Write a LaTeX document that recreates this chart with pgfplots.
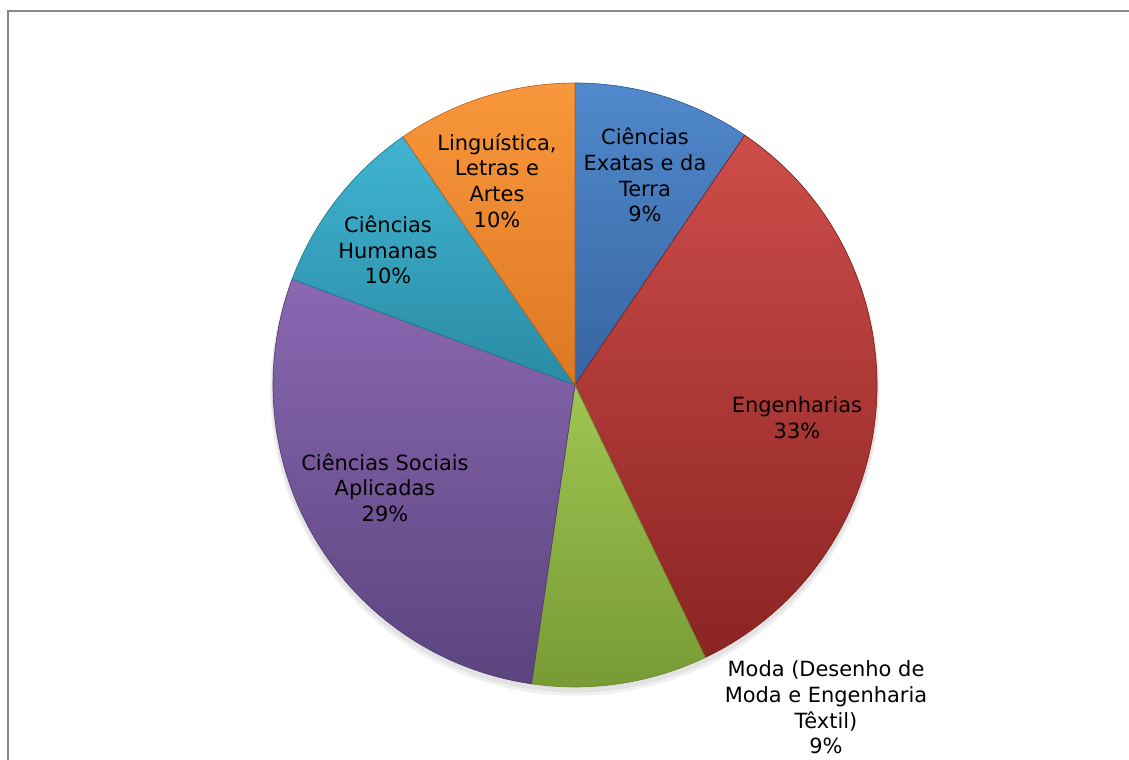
\documentclass[border=0pt]{standalone}
\usepackage{pgfplots}
\pgfplotsset{compat=1.18}
\usepackage{pgfplotstable}
\usepackage{fontspec}
\setmainfont{DejaVu Sans}

\definecolor{c0top}{HTML}{5089CC}\definecolor{c0bot}{HTML}{3764A0}
\definecolor{c1top}{HTML}{CE4D4A}\definecolor{c1bot}{HTML}{8A2422}
\definecolor{c2top}{HTML}{9FC552}\definecolor{c2bot}{HTML}{779A35}
\definecolor{c3top}{HTML}{8A68B2}\definecolor{c3bot}{HTML}{5B447E}
\definecolor{c4top}{HTML}{40B4D2}\definecolor{c4bot}{HTML}{2A8BA3}
\definecolor{c5top}{HTML}{F9973C}\definecolor{c5bot}{HTML}{DC7822}
\definecolor{c0edge}{HTML}{2F5A90}\definecolor{c1edge}{HTML}{7E201E}
\definecolor{c2edge}{HTML}{6B8A30}\definecolor{c3edge}{HTML}{4F3B6E}
\definecolor{c4edge}{HTML}{247A90}\definecolor{c5edge}{HTML}{B8621A}
\definecolor{framegray}{HTML}{888888}

% share of each area in percent, clockwise from 12 o'clock
\pgfplotstableread{
area value
Exatas 9.5
Engenharias 33.4
Moda 9.4
Sociais 28.4
Humanas 9.65
Linguistica 9.65
}\piedata

\begin{document}
\begin{tikzpicture}
\begin{axis}[
  scale only axis, width=846.75pt, height=570pt,
  xmin=0, xmax=1129, ymin=0, ymax=760,
  hide axis, clip=false,
]
% soft shadow below the pie
\fill[black, opacity=0.06] (axis cs:575,369) circle[radius=228.5pt];
\fill[black, opacity=0.06] (axis cs:575,371) circle[radius=227.5pt];
\pgfplotstablegetrowsof{\piedata}
\pgfmathtruncatemacro\N{\pgfplotsretval-1}
\def\cum{90}
\pgfplotsforeachungrouped \i in {0,...,\N}{%
  \pgfplotstablegetelem{\i}{value}\of\piedata
  \pgfmathsetmacro\endang{\cum - 3.6*\pgfplotsretval}%
  \edef\temp{\noexpand\shade[top color=c\i top, bottom color=c\i bot, draw=c\i edge, line width=0.5pt, line join=round]
    (axis cs:575,375) -- ++(\cum:226.5pt) arc[start angle=\cum, end angle=\endang, radius=226.5pt] -- cycle;}%
  \temp
  \global\let\cum\endang
}
\draw[framegray, line width=1.3pt] (axis cs:8.3,-5) -- (axis cs:8.3,749.3) -- (axis cs:1135,749.3);

\begin{scope}[every node/.style={align=center, font=\fontsize{15.7}{19.2}\selectfont, text=black}]
\node at (axis cs:645,585) {Ciências\\Exatas e da\\Terra\\9\%};
\node at (axis cs:797,342.5) {Engenharias\\33\%};
\node at (axis cs:826,52.5) {Moda (Desenho de\\Moda e Engenharia\\Têxtil)\\9\%};
\node at (axis cs:385,272.5) {Ciências Sociais\\Aplicadas\\29\%};
\node at (axis cs:388,510) {Ciências\\Humanas\\10\%};
\node at (axis cs:497,579.5) {Linguística,\\Letras e\\Artes\\10\%};
\end{scope}
\end{axis}
\pgfresetboundingbox
\useasboundingbox (0,0) rectangle (846.75pt,570pt);
\end{tikzpicture}
\end{document}
